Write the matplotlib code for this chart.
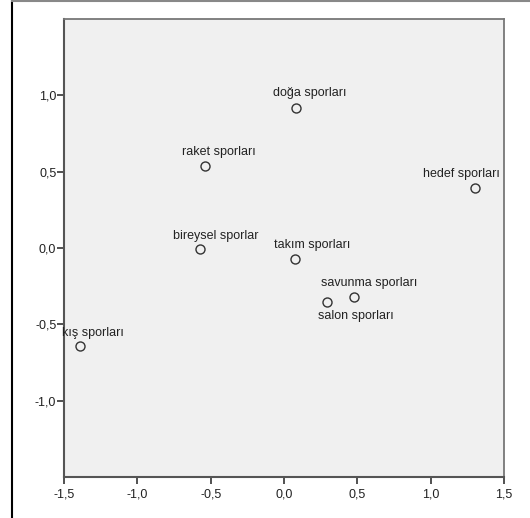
import matplotlib
matplotlib.use("Agg")
import matplotlib.pyplot as plt
from matplotlib.lines import Line2D

plt.rcParams['font.family'] = ['Liberation Sans', 'DejaVu Sans']

# object points
labels = ["doğa sporları", "raket sporları", "hedef sporları", "bireysel sporlar",
          "takım sporları", "savunma sporları", "salon sporları", "kış sporları"]
dim1 = [0.08, -0.54, 1.30, -0.57, 0.075, 0.48, 0.29, -1.39]
dim2 = [0.92, 0.54, 0.39, -0.005, -0.07, -0.32, -0.355, -0.64]

ticks = [-1.5, -1.0, -0.5, 0.0, 0.5, 1.0, 1.5]
tick_labels = ["-1,5", "-1,0", "-0,5", "0,0", "0,5", "1,0", "1,5"]

# label offsets from each point, in pixels (SPSS placement)
offsets = [(14, 15), (14, 14), (-13, 14), (15, 13),
           (17, 14), (15, 14), (29, -14), (13, 13)]

fig = plt.figure(figsize=(5.30, 5.18), dpi=100)
ax = fig.add_axes([64 / 530, 41 / 518, 440 / 530, 458 / 518])
ax.set_facecolor('#f0f0f0')

ax.plot(dim1, dim2, linestyle='none', marker='o', markersize=6.5,
        markerfacecolor='none', markeredgecolor='#333333', markeredgewidth=1.0)

for lab, x, y, (dx, dy) in zip(labels, dim1, dim2, offsets):
    ax.annotate(lab, (x, y), xytext=(dx, dy), textcoords='offset pixels',
                ha='center', va='center', fontsize=9, color='#222222',
                annotation_clip=False)

ax.set_xlim(-1.5, 1.5)
ax.set_ylim(-1.5, 1.5)
ax.set_xticks(ticks)
ax.set_xticklabels(tick_labels)
ax.set_yticks(ticks[1:-1])
ax.set_yticklabels(tick_labels[1:-1])
ax.tick_params(direction='out', length=5, width=1.2, color='#333333',
               labelsize=9, labelcolor='#222222', pad=0.5)
ax.tick_params(axis='x', pad=3)

for side in ['left', 'bottom']:
    ax.spines[side].set_color('#555555')
    ax.spines[side].set_linewidth(1.5)
for side in ['top', 'right']:
    ax.spines[side].set_color('#777777')
    ax.spines[side].set_linewidth(1.3)

# outer chart frame
fig.add_artist(Line2D([12 / 530, 12 / 530], [0, 1], transform=fig.transFigure,
                      color='black', linewidth=1.5))
fig.add_artist(Line2D([12 / 530, 1], [0.999, 0.999], transform=fig.transFigure,
                      color='#888888', linewidth=1.5))

fig.savefig("out.png", dpi=100, facecolor='white')
